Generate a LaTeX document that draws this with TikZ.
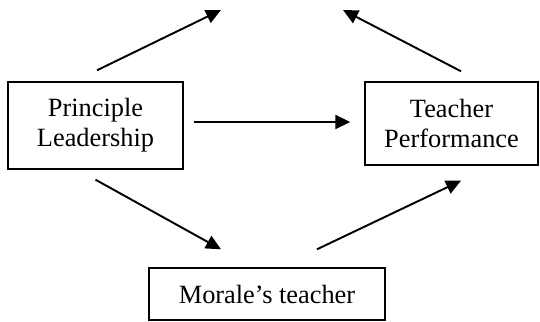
\documentclass[tikz,border=0pt]{standalone}
\usepackage{fontspec}
\setmainfont{Liberation Serif}
\usetikzlibrary{arrows.meta, calc}

\begin{document}
\begin{tikzpicture}[box/.style={draw,line width=0.8pt,inner sep=0pt,align=center,font=\fontsize{15}{17}\selectfont},
  >={Triangle[length=3mm,width=2.8mm]}, every path/.style={line width=1.1pt}]
  \useasboundingbox (0,0) rectangle (10.8,6.44);
  \path (1.91,3.93) node[box,minimum width=3.5cm,minimum height=1.74cm] (lead) {Principle\\Leadership}
  (9.03,3.97) node[box,minimum width=3.46cm,minimum height=1.66cm] (perf) {Teacher\\Performance}
  (5.34,0.56) node[box,minimum width=4.72cm,minimum height=1.04cm] (moral) {Morale’s teacher};
  \coordinate (upl) at (4.42,6.24);
  \coordinate (upr) at (6.86,6.24);
  \draw[->] ($(lead.north)+(0.03,0.22)$) -- (upl);
  \draw[->] ($(perf.north)+(0.19,0.2)$) -- (upr);
  \draw[->] ($(lead.east)+(0.2,0.07)$) -- ($(perf.west)+(-0.28,0.03)$);
  \draw[->] ($(lead.south)+(0,-0.2)$) -- ($(moral.north)+(-0.92,0.36)$);
  \draw[->] ($(moral.north)+(1.0,0.36)$) -- ($(perf.south)+(0.19,-0.3)$);
\end{tikzpicture}
\end{document}
